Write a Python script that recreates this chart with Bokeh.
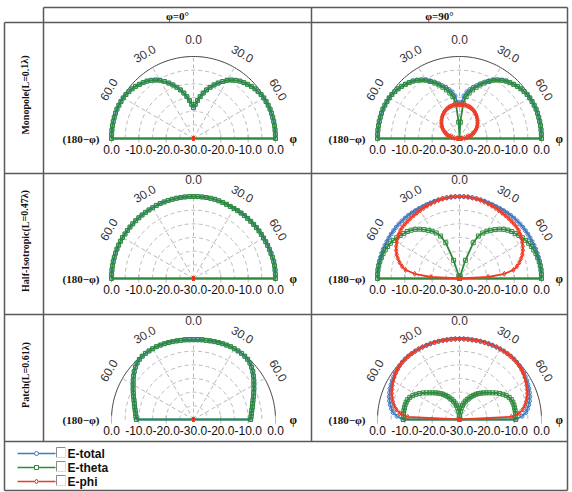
import numpy as np
from bokeh.plotting import figure
from bokeh.models import Range1d
from bokeh.core.properties import value
from bokeh.embed import file_html
from bokeh.resources import INLINE

# ---------------------------------------------------------------- data
# elevation angle from zenith (deg); each cut is drawn in the phi half-plane
# (right) and the 180-phi half-plane (left)
theta = list(range(0, 91, 3))

row_labels = ["Monopole(L=0.1\u03bb)", "Half-Isotropic(L=0.47\u03bb)", "Patch(L=0.61\u03bb)"]
col_labels = ["\u03c6=0\u00b0", "\u03c6=90\u00b0"]
series_names = ["E-total", "E-theta", "E-phi"]

radial_ticks = [0.0, -10.0, -20.0, -30.0]          # dB
ring_levels = [-25, -20, -15, -10, -5]             # dB
angle_ticks = [-60, -30, 0, 30, 60]                # deg

floor_db = [-30.0, -30.0, -30.0, -30.0, -30.0, -30.0, -30.0, -30.0, -30.0, -30.0,
            -30.0, -30.0, -30.0, -30.0, -30.0, -30.0, -30.0, -30.0, -30.0, -30.0,
            -30.0, -30.0, -30.0, -30.0, -30.0, -30.0, -30.0, -30.0, -30.0, -30.0, -30.0]

# Monopole
mono_phi0_theta = [-18.7, -17.5, -16.0, -14.5, -13.0, -11.6, -10.3, -9.0, -7.8, -6.6,
                   -5.4, -4.5, -3.7, -3.0, -2.5, -2.0, -1.5, -1.1, -0.8, -0.5,
                   -0.3, -0.2, -0.1, 0.0, 0.0, 0.0, 0.0, 0.0, 0.0, 0.0, 0.0]
mono_phi0_total = mono_phi0_theta
mono_phi0_phi = floor_db

mono_phi90_theta = [-30.0, -24.0, -17.0, -14.5, -13.0, -11.6, -10.3, -9.0, -7.8, -6.6,
                    -5.4, -4.5, -3.7, -3.0, -2.5, -2.0, -1.5, -1.1, -0.8, -0.5,
                    -0.3, -0.2, -0.1, 0.0, 0.0, 0.0, 0.0, 0.0, 0.0, 0.0, 0.0]
mono_phi90_phi = [-17.6, -17.6, -17.6, -17.6, -17.7, -17.8, -17.9, -18.1, -18.3, -18.6,
                  -18.8, -19.2, -19.5, -19.9, -20.3, -20.7, -21.1, -21.5, -22.0, -22.4,
                  -22.9, -23.4, -24.0, -24.5, -25.1, -25.8, -26.5, -27.2, -28.1, -29.0, -30.0]
mono_phi90_total = [-17.6, -16.8, -14.3, -12.7, -11.7, -10.6, -9.6, -8.5, -7.4, -6.3,
                    -5.2, -4.4, -3.6, -2.9, -2.4, -1.9, -1.5, -1.1, -0.8, -0.5,
                    -0.3, -0.2, -0.1, 0.0, 0.0, 0.0, 0.0, 0.0, 0.0, 0.0, 0.0]

# Half-isotropic
half_phi0_theta = [0.0, 0.0, 0.0, 0.0, 0.0, 0.0, -0.1, -0.2, -0.3, -0.4,
                   -0.4, -0.4, -0.4, -0.4, -0.4, -0.4, -0.4, -0.4, -0.4, -0.4,
                   -0.4, -0.35, -0.3, -0.25, -0.2, -0.1, 0.0, 0.0, 0.0, 0.0, 0.0]
half_phi0_theta_180 = [0.0, 0.0, 0.0, 0.0, 0.0, 0.0, 0.0, 0.0, 0.0, 0.0,
                       -0.1, -0.1, -0.1, -0.1, -0.1, -0.1, -0.1, -0.1, -0.1, -0.1,
                       0.0, 0.0, 0.0, 0.0, 0.0, 0.0, 0.0, 0.0, 0.0, 0.0, 0.0]
half_phi0_total = half_phi0_theta
half_phi0_total_180 = half_phi0_theta_180
half_phi0_phi = floor_db

half_phi90_theta = [-30.0, -30.0, -30.0, -30.0, -30.0, -29.0, -23.0, -16.0, -13.0, -11.3,
                    -10.0, -9.0, -7.9, -6.8, -5.8, -5.0, -4.3, -3.8, -3.2, -2.6,
                    -2.1, -1.6, -1.2, -0.9, -0.6, -0.4, -0.2, -0.1, 0.0, 0.0, 0.0]
half_phi90_phi = [0.0, 0.0, -0.05, -0.1, -0.2, -0.35, -0.5, -0.7, -0.9, -1.1,
                  -1.3, -1.4, -1.5, -1.6, -1.7, -1.8, -1.9, -2.1, -2.5, -3.0,
                  -3.5, -4.0, -4.6, -5.4, -6.3, -7.3, -8.5, -10.0, -13.5, -19.5, -30.0]
half_phi90_total = [0.0, 0.0, 0.0, -0.05, -0.1, -0.2, -0.3, -0.4, -0.45, -0.5,
                    -0.45, -0.4, -0.35, -0.3, -0.25, -0.2, -0.2, -0.2, -0.2, -0.2,
                    -0.2, -0.2, -0.15, -0.1, -0.1, -0.1, -0.05, 0.0, 0.0, 0.0, 0.0]

# Patch
patch_phi0_theta = [-0.8, -0.8, -0.7, -0.7, -0.6, -0.5, -0.4, -0.3, -0.2, -0.1,
                    -0.1, -0.1, -0.1, -0.2, -0.4, -0.8, -1.4, -2.1, -2.9, -3.7,
                    -4.5, -5.2, -5.9, -6.5, -7.1, -7.6, -8.0, -8.4, -8.7, -8.9, -9.1]
patch_phi0_total = patch_phi0_theta
patch_phi0_phi = floor_db

patch_phi90_theta = [-30.0, -28.5, -27.0, -25.8, -24.7, -23.8, -23.0, -22.2, -21.4, -20.6,
                     -19.8, -19.0, -18.3, -17.6, -16.9, -16.2, -15.4, -14.5, -13.5, -12.5,
                     -11.6, -10.8, -10.1, -9.7, -9.5, -9.4, -9.4, -9.4, -9.4, -9.4, -9.4]
patch_phi90_phi = [-0.5, -0.5, -0.5, -0.5, -0.45, -0.4, -0.35, -0.3, -0.3, -0.25,
                   -0.2, -0.2, -0.2, -0.25, -0.3, -0.4, -0.6, -0.9, -1.2, -1.6,
                   -2.0, -2.5, -3.0, -3.5, -4.1, -4.8, -5.6, -6.6, -8.0, -11.0, -30.0]
patch_phi90_total = [-0.5, -0.5, -0.5, -0.5, -0.45, -0.4, -0.35, -0.3, -0.3, -0.25,
                     -0.2, -0.2, -0.2, -0.2, -0.25, -0.35, -0.5, -0.7, -1.0, -1.3,
                     -1.6, -1.9, -2.2, -2.6, -3.0, -3.5, -4.1, -4.8, -5.6, -7.1, -9.4]

# (row, col) -> {series: (phi half-plane values, 180-phi half-plane values)}
panels = {
    (0, 0): {"E-total": (mono_phi0_total, mono_phi0_total),
             "E-theta": (mono_phi0_theta, mono_phi0_theta),
             "E-phi": (mono_phi0_phi, mono_phi0_phi)},
    (0, 1): {"E-total": (mono_phi90_total, mono_phi90_total),
             "E-theta": (mono_phi90_theta, mono_phi90_theta),
             "E-phi": (mono_phi90_phi, mono_phi90_phi)},
    (1, 0): {"E-total": (half_phi0_total, half_phi0_total_180),
             "E-theta": (half_phi0_theta, half_phi0_theta_180),
             "E-phi": (half_phi0_phi, half_phi0_phi)},
    (1, 1): {"E-total": (half_phi90_total, half_phi90_total),
             "E-theta": (half_phi90_theta, half_phi90_theta),
             "E-phi": (half_phi90_phi, half_phi90_phi)},
    (2, 0): {"E-total": (patch_phi0_total, patch_phi0_total),
             "E-theta": (patch_phi0_theta, patch_phi0_theta),
             "E-phi": (patch_phi0_phi, patch_phi0_phi)},
    (2, 1): {"E-total": (patch_phi90_total, patch_phi90_total),
             "E-theta": (patch_phi90_theta, patch_phi90_theta),
             "E-phi": (patch_phi90_phi, patch_phi90_phi)},
}

# ---------------------------------------------------------------- style
W, H = 572, 492
COLORS = {"E-total": "#3f7cc4", "E-theta": "#2e8b3e", "E-phi": "#f03a24"}
MARKERS = {"E-total": "circle", "E-theta": "square", "E-phi": "diamond"}
SIZES = {"E-total": 4, "E-theta": 4, "E-phi": 5}
SANS = value("Liberation Sans")
SERIF = value("Liberation Serif")
GRID = "#b8b8b8"
RULE = "#5a5a5a"

# table geometry (screen pixels, y downward)
X_OUT_L, X_LAB, X_MID, X_OUT_R = 4, 43, 311, 567
Y_TOP, Y_HEAD, Y_ROWS, Y_BOT = 7, 22, [173, 314, 441], 490
CX = [193, 459]
CY = [138, 278, 419]
R = 82
DB_MIN, DB_MAX = -30.0, 0.0

p = figure(width=W, height=H, x_range=Range1d(0, W), y_range=Range1d(H, 0),
           output_backend="svg", toolbar_location=None, min_border=0,
           x_axis_type=None, y_axis_type=None)
p.grid.visible = False
p.outline_line_color = None
p.background_fill_color = "white"
p.border_fill_color = "white"

th = np.radians(theta)


def radius(db):
    v = np.clip(np.asarray(db, dtype=float), DB_MIN, DB_MAX)
    return (v - DB_MIN) / (DB_MAX - DB_MIN) * R


def half_xy(cx, cy, db, side):
    r = radius(db)
    return cx + side * r * np.sin(th), cy - r * np.cos(th)


# ---------------------------------------------------------------- table rules
xs0, ys0, xs1, ys1 = [], [], [], []
def rule(x0, y0, x1, y1):
    xs0.append(x0); ys0.append(y0); xs1.append(x1); ys1.append(y1)

rule(X_LAB, Y_TOP, X_OUT_R, Y_TOP)
rule(X_OUT_L, Y_HEAD, X_OUT_R, Y_HEAD)
for yr in Y_ROWS:
    rule(X_OUT_L, yr, X_OUT_R, yr)
rule(X_OUT_L, Y_BOT, X_OUT_R, Y_BOT)
rule(X_OUT_L, Y_HEAD, X_OUT_L, Y_BOT)
rule(X_LAB, Y_TOP, X_LAB, Y_ROWS[-1])
rule(X_MID, Y_TOP, X_MID, Y_ROWS[-1])
rule(X_OUT_R, Y_TOP, X_OUT_R, Y_BOT)
p.segment(xs0, ys0, xs1, ys1, line_color=RULE, line_width=1.5)

# headers
p.text(x=[(X_LAB + X_MID) / 2, (X_MID + X_OUT_R) / 2], y=[(Y_TOP + Y_HEAD) / 2 + 1] * 2,
       text=col_labels, text_font=SERIF, text_font_style="bold", text_font_size="11px",
       text_align="center", text_baseline="middle", text_color="#111")
row_tops = [Y_HEAD] + Y_ROWS[:-1]
p.text(x=[(X_OUT_L + X_LAB) / 2 + 1] * 3,
       y=[(row_tops[i] + Y_ROWS[i]) / 2 - 3 for i in range(3)],
       text=row_labels, angle=[np.pi / 2] * 3, text_font=SERIF, text_font_style="bold",
       text_font_size="10px", text_align="center", text_baseline="middle", text_color="#111")

# ---------------------------------------------------------------- polar panels
arc_t = np.radians(np.linspace(-90, 90, 121))
for (ri, ci), data in panels.items():
    cx, cy = CX[ci], CY[ri]

    # dashed rings and spokes
    ring_x = [list(cx + radius(lv) * np.sin(arc_t)) for lv in ring_levels]
    ring_y = [list(cy - radius(lv) * np.cos(arc_t)) for lv in ring_levels]
    p.multi_line(ring_x, ring_y, line_color=GRID, line_width=1, line_dash="4 3")
    spk = np.radians(angle_ticks)
    p.segment([cx] * len(spk), [cy] * len(spk), list(cx + R * np.sin(spk)),
              list(cy - R * np.cos(spk)), line_color=GRID, line_width=1, line_dash="4 3")
    # outer ring
    p.line(list(cx + R * np.sin(arc_t)), list(cy - R * np.cos(arc_t)),
           line_color="#444", line_width=1)
    # baseline ticks
    tick_r = [radius(t) for t in radial_ticks[1:3]]
    tx = [cx - r for r in tick_r] + [cx + r for r in tick_r] + [cx - R, cx + R]
    p.segment(tx, [cy - 4] * len(tx), tx, [cy + 4] * len(tx), line_color=GRID, line_width=1)

    # radial tick labels along the baseline
    lab_x, lab_t = [], []
    for t in radial_ticks:
        r = radius(t)
        if r == 0:
            lab_x.append(cx); lab_t.append(f"{t:.1f}")
        else:
            lab_x += [cx - r, cx + r]; lab_t += [f"{t:.1f}", f"{t:.1f}"]
    p.text(x=lab_x, y=[cy + 11] * len(lab_x), text=lab_t, text_font=SANS,
           text_font_size="12px", text_align="center", text_baseline="middle",
           text_color="#111")

    # angle labels around the arc
    a = np.radians(angle_ticks)
    rr = np.array([R + 16 if t else R + 17 for t in angle_ticks])
    p.text(x=list(cx + rr * np.sin(a)), y=list(cy - rr * np.cos(a)),
           text=[f"{abs(t):.1f}" for t in angle_ticks], angle=list(-a),
           text_font=SANS, text_font_size="12px", text_align="center",
           text_baseline="middle", text_color="#333")

    # half-plane names
    p.text(x=[cx - R - 12], y=[cy], text=["(180\u2212\u03c6)"], text_font=SERIF,
           text_font_style="bold", text_font_size="11px", text_align="right",
           text_baseline="middle", text_color="#111")
    p.text(x=[cx + R + 14], y=[cy], text=["\u03c6"], text_font=SERIF,
           text_font_style="bold", text_font_size="12px", text_align="left",
           text_baseline="middle", text_color="#111")

    # pattern cuts
    for name in series_names:
        right, left = data[name]
        xl, yl = half_xy(cx, cy, left, -1)
        xr, yr = half_xy(cx, cy, right, 1)
        mx = np.concatenate([xl[::-1], xr[1:]])
        my = np.concatenate([yl[::-1], yr[1:]])
        col = COLORS[name]
        p.line(list(mx) + [mx[0]], list(my) + [my[0]], line_color=col, line_width=1.8)
        p.scatter(list(mx), list(my), marker=MARKERS[name], size=SIZES[name],
                  line_color=col, fill_color=None, line_width=1)

# ---------------------------------------------------------------- legend
leg_y = [453, 467, 481]
for name, ly in zip(series_names, leg_y):
    col = COLORS[name]
    p.line([17, 55], [ly, ly], line_color=col, line_width=1.6)
    p.scatter([36], [ly], marker=MARKERS[name], size=SIZES[name], line_color=col,
              fill_color="white")
    p.segment([56, 56, 56, 65], [ly - 6, ly - 6, ly + 4, ly - 6], [65, 56, 65, 65],
              [ly - 6, ly + 4, ly + 4, ly + 4],
              line_color=["#8a8a8a", "#8a8a8a", "#dcdcdc", "#dcdcdc"], line_width=1)
    p.text(x=[67], y=[ly], text=[name], text_font=SANS, text_font_style="bold",
           text_font_size="12px", text_align="left", text_baseline="middle",
           text_color="#111")

open("out.html", "w").write(file_html(p, INLINE))
